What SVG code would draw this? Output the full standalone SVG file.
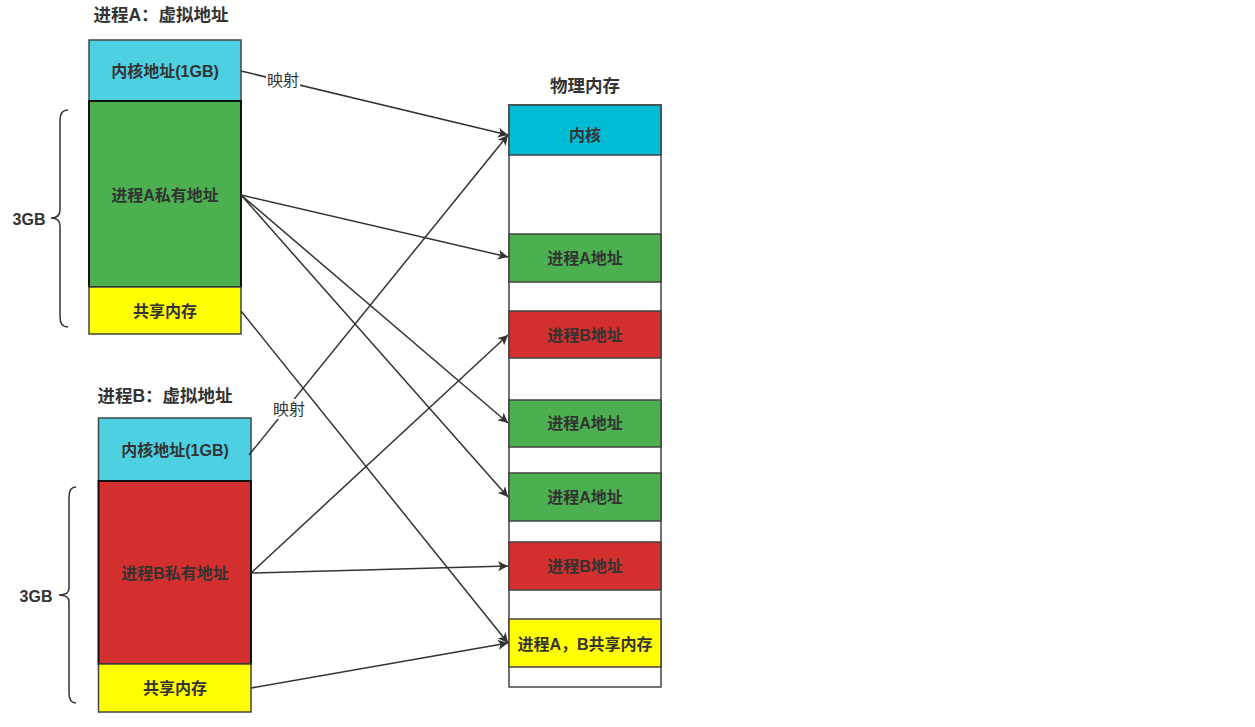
<svg xmlns="http://www.w3.org/2000/svg" width="1255" height="727" viewBox="0 0 1255 727">
<style>
text{font-family:"Liberation Sans","Noto Sans CJK SC",sans-serif;fill:#333;text-anchor:middle;dominant-baseline:central}
.t{font-size:17.5px;font-weight:bold}
.b{font-size:16px;font-weight:bold}
.l{font-size:16px}
.box{stroke:#444;stroke-width:1.5}
.pv{stroke:#111;stroke-width:2}
.c{fill:none;stroke:#333;stroke-width:1.5}
.br{fill:none;stroke:#333;stroke-width:1.5}
</style>
<defs>
<marker id="ah" viewBox="0 0 10 10" refX="10" refY="5" markerWidth="10" markerHeight="10" markerUnits="userSpaceOnUse" orient="auto">
<path d="M0,0 L10,5 L0,10 L2.5,5 Z" fill="#333"/>
</marker>
</defs>
<rect width="1255" height="727" fill="#fff"/>

<g id="processA">
<text class="t" x="161" y="15">进程A：虚拟地址</text>
<rect class="box" x="89" y="40" width="152" height="61" fill="#4dd0e1"/>
<text class="b" x="165" y="71">内核地址(1GB)</text>
<rect class="pv" x="89" y="101" width="152" height="186" fill="#4caf50"/>
<text class="b" x="165" y="195">进程A私有地址</text>
<rect class="box" x="89" y="287" width="152" height="47" fill="#ffff00"/>
<text class="b" x="165" y="311">共享内存</text>
<path class="br" d="M68,110 Q60,110 60,120 L60,210 Q60,218 51,218 Q60,218 60,226 L60,317 Q60,327 68,327"/>
<text class="b" x="29" y="219">3GB</text>
</g>

<g id="processB">
<text class="t" x="165" y="396">进程B：虚拟地址</text>
<rect class="box" x="98.5" y="418" width="152.5" height="63" fill="#4dd0e1"/>
<text class="b" x="175" y="450">内核地址(1GB)</text>
<rect class="pv" x="98.5" y="481" width="152.5" height="183" fill="#d32f2f"/>
<text class="b" x="175" y="573">进程B私有地址</text>
<rect class="box" x="98.5" y="664" width="152.5" height="48" fill="#ffff00"/>
<text class="b" x="175" y="688">共享内存</text>
<path class="br" d="M76,487 Q69,487 69,497 L69,588 Q69,595 59,595 Q69,595 69,602 L69,693 Q69,703 76,703"/>
<text class="b" x="36" y="596">3GB</text>
</g>

<g id="physical">
<text class="t" x="585" y="86">物理内存</text>
<rect class="box" x="509" y="105" width="152" height="582" fill="#fff"/>
<rect class="box" x="509" y="105" width="152" height="50" fill="#00bcd4"/>
<text class="b" x="585" y="135">内核</text>
<rect class="box" x="509" y="234" width="152" height="48" fill="#4caf50"/>
<text class="b" x="585" y="258">进程A地址</text>
<rect class="box" x="509" y="311" width="152" height="47" fill="#d32f2f"/>
<text class="b" x="585" y="335">进程B地址</text>
<rect class="box" x="509" y="400" width="152" height="47" fill="#4caf50"/>
<text class="b" x="585" y="423">进程A地址</text>
<rect class="box" x="509" y="473" width="152" height="48" fill="#4caf50"/>
<text class="b" x="585" y="497">进程A地址</text>
<rect class="box" x="509" y="542" width="152" height="48" fill="#d32f2f"/>
<text class="b" x="585" y="566">进程B地址</text>
<rect class="box" x="509" y="619" width="152" height="48" fill="#ffff00"/>
<text class="b" x="585" y="644">进程A，B共享内存</text>
</g>

<g id="connectors">
<path class="c" d="M241,71 L508,135" marker-end="url(#ah)"/>
<path class="c" d="M249,455 L508,135" marker-end="url(#ah)"/>
<path class="c" d="M241,195 L508,257" marker-end="url(#ah)"/>
<path class="c" d="M241,195 L508,423" marker-end="url(#ah)"/>
<path class="c" d="M241,195 L508,497" marker-end="url(#ah)"/>
<path class="c" d="M241,311 L508,643" marker-end="url(#ah)"/>
<path class="c" d="M251,573 L508,335" marker-end="url(#ah)"/>
<path class="c" d="M251,573 L508,566" marker-end="url(#ah)"/>
<path class="c" d="M251,688 L508,643" marker-end="url(#ah)"/>
<rect x="266" y="70" width="34" height="20" fill="#fff"/>
<text class="l" x="283" y="80">映射</text>
<rect x="272" y="399" width="34" height="20" fill="#fff"/>
<text class="l" x="289" y="409">映射</text>
</g>
</svg>
